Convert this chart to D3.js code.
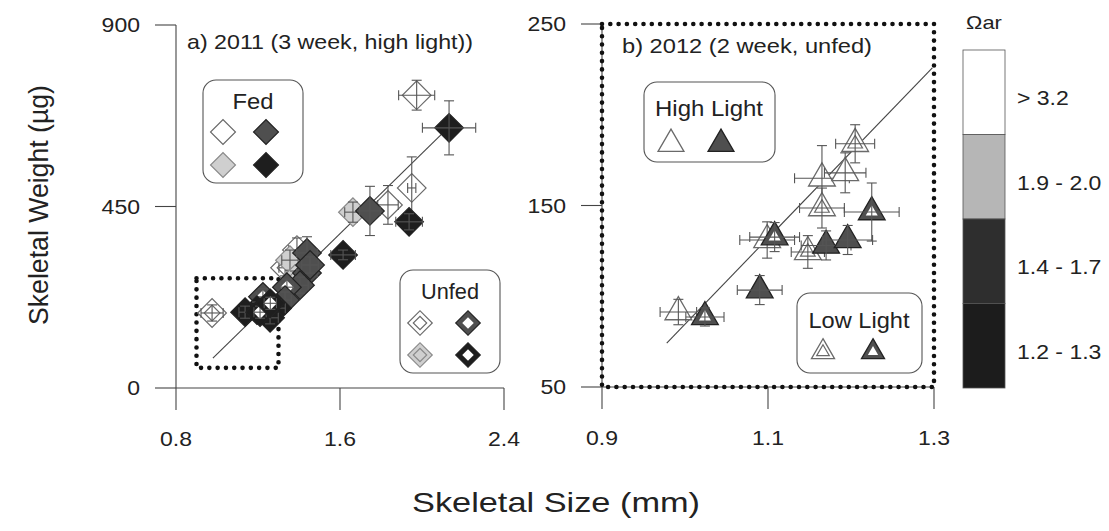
<!DOCTYPE html>
<html><head><meta charset="utf-8">
<script src="https://cdn.jsdelivr.net/npm/d3@7"></script>
<style>body{margin:0;background:#fff}svg{display:block}text{font-family:"Liberation Sans",Arial,sans-serif;fill:#222}</style>
</head><body><svg id="c" width="1109" height="531"></svg>
<script>
// ---------- DATA ----------
// Panel a: 2011 (3 week, high light)
const aX    = [0.976,1.974,2.132,1.95,1.937,1.746,1.834,1.663,1.615,1.439,1.39,1.356,1.341,1.439,1.454,1.405,1.332,1.341,1.332,1.224,1.293,1.259,1.195,1.137,1.21,1.26,1.38];
const aY    = [186,726,645,496,412,439,454,436,330,335,342,317,300,285,305,255,298,250,218,226,198,174,193,188,188,210,270];
const aXErr = [0.054,0.088,0.13,0.02,0.065,0.05,0.05,0.04,0.06,0.05,0.04,0.04,0.03,0.05,0.04,0.04,0.03,0.03,0.03,0.03,0.04,0.04,0.04,0.03,0.03,0.03,0.03];
const aYErr = [20,37,67,77,20,61,48,25,12,40,30,25,20,25,20,20,20,20,20,20,20,15,20,15,15,15,20];
const aOmega= ["> 3.2","> 3.2","1.2 - 1.3","> 3.2","1.2 - 1.3","1.4 - 1.7","> 3.2","1.9 - 2.0","1.2 - 1.3","1.4 - 1.7","> 3.2","1.9 - 2.0","> 3.2","1.4 - 1.7","1.4 - 1.7","1.4 - 1.7","> 3.2","1.4 - 1.7","1.4 - 1.7","1.4 - 1.7","1.2 - 1.3","1.2 - 1.3","1.2 - 1.3","1.2 - 1.3","1.2 - 1.3","1.2 - 1.3","1.9 - 2.0"];
const aFed  = ["unfed","fed","fed","fed","fed","fed","fed","fed","fed","fed","fed","fed","unfed","fed","fed","fed","unfed","unfed","fed","unfed","fed","fed","fed","fed","unfed","unfed","unfed"];
const aRegX = [0.98,2.127];
const aRegY = [74,645];
const aInsetX = [0.9,1.3];
const aInsetY = [50,272];
const aXTicks = [0.8,1.6,2.4];
const aYTicks = [0,450,900];

// Panel b: 2012 (2 week, unfed)
const bX    = [1.205,1.165,1.193,1.165,1.225,1.099,1.108,1.148,1.17,1.196,1.09,0.992,1.024];
const bY    = [184,165,168,148.6,146.4,131,132.6,124.4,128,131,103.4,91.3,88.6];
const bXErr = [0.0235,0.033,0.025,0.027,0.033,0.033,0.03,0.02,0.03,0.03,0.027,0.022,0.023];
const bYErr = [10.5,18,11,11,16,10,8,9,8,8,8,7,5];
const bLight= ["low","high","high","low","low","high","low","low","high","high","high","high","low"];
const bOmega= ["> 3.2","> 3.2","> 3.2","> 3.2","1.4 - 1.7","> 3.2","1.4 - 1.7","> 3.2","1.4 - 1.7","1.4 - 1.7","1.4 - 1.7","> 3.2","1.4 - 1.7"];
const bRegX = [0.978,1.298];
const bRegY = [74.2,225.8];
const bXTicks = [0.9,1.1,1.3];
const bYTicks = [50,150,250];

// Colour key
const omegaLabels = ["> 3.2","1.9 - 2.0","1.4 - 1.7","1.2 - 1.3"];
const omegaBar    = ["#ffffff","#b6b6b6","#2e2e2e","#1c1c1c"];
const omegaMark   = ["#ffffff","#cfcfcf","#4f4f4f","#1e1e1e"];

// ---------- DRAW ----------
const svg = d3.select("#c");
const col = d3.scaleOrdinal().domain(omegaLabels).range(omegaMark);
const barCol = d3.scaleOrdinal().domain(omegaLabels).range(omegaBar);
const strokeFor = c => c==="#ffffff" ? "#6a6a6a" : (c==="#cfcfcf" ? "#8a8a8a" : "#222");
const ERR = "#555";
const STRETCH = 1.15;

function stretch(t, len){
  const n = t.node();
  const L = len || n.getComputedTextLength()*STRETCH;
  t.attr("textLength",L).attr("lengthAdjust","spacingAndGlyphs");
  return t;
}
function txt(g, x, y, s, size, anchor, len){
  const t = g.append("text").attr("x",x).attr("y",y).attr("font-size",size).attr("text-anchor",anchor||"start").text(s);
  return stretch(t, len);
}

function axes(g, x, y, xt, yt, fmtX){
  const [x0,x1]=x.range(), [y0,y1]=y.range(); // y0 bottom
  const L = g.append("g").attr("stroke","#444").attr("stroke-width",1.1);
  L.append("line").attr("x1",x0).attr("x2",x0).attr("y1",y1).attr("y2",y0);
  L.append("line").attr("x1",x0).attr("x2",x1).attr("y1",y0).attr("y2",y0);
  yt.forEach(v=>{
    L.append("line").attr("x1",x0-21).attr("x2",x0).attr("y1",y(v)).attr("y2",y(v));
    txt(g, x0-36, y(v)+7, String(v), 20, "end");
  });
  xt.forEach(v=>{
    L.append("line").attr("x1",x(v)).attr("x2",x(v)).attr("y1",y0).attr("y2",y0+22);
    txt(g, x(v), y0+58, fmtX(v), 20, "middle");
  });
}

function errorBars(g, px, py, xLo, xHi, yLo, yHi){
  const e = g.append("g").attr("stroke",ERR).attr("stroke-width",1.1).attr("fill","none");
  e.append("line").attr("x1",xLo).attr("x2",xHi).attr("y1",py).attr("y2",py);
  e.append("line").attr("x1",px).attr("x2",px).attr("y1",yLo).attr("y2",yHi);
  e.append("line").attr("x1",xLo).attr("x2",xLo).attr("y1",py-5).attr("y2",py+5);
  e.append("line").attr("x1",xHi).attr("x2",xHi).attr("y1",py-5).attr("y2",py+5);
  e.append("line").attr("x1",px-5).attr("x2",px+5).attr("y1",yLo).attr("y2",yLo);
  e.append("line").attr("x1",px-5).attr("x2",px+5).attr("y1",yHi).attr("y2",yHi);
}

const diamondPath = d3.symbol().type(d3.symbolSquare);
function diamond(g, px, py, fill, double, size){
  const s = size||410;
  const t = g.append("g").attr("transform",`translate(${px},${py}) rotate(45)`);
  t.append("path").attr("d",diamondPath.size(s)()).attr("fill",fill).attr("stroke",strokeFor(fill)).attr("stroke-width",1.2);
  if(double){
    const dark = fill!=="#ffffff" && fill!=="#cfcfcf";
    t.append("path").attr("d",diamondPath.size(s*(dark?0.22:0.3))())
      .attr("fill",dark?"#ffffff":fill).attr("stroke",dark?"none":strokeFor(fill)).attr("stroke-width",1.2);
  }
}
const triPath = d3.symbol().type(d3.symbolTriangle);
function triangle(g, px, py, fill, double, size){
  const s = size||310;
  const t = g.append("g").attr("transform",`translate(${px},${py})`);
  t.append("path").attr("d",triPath.size(s)()).attr("fill",fill).attr("stroke",strokeFor(fill)).attr("stroke-width",1.3);
  if(double){
    const dark = fill!=="#ffffff";
    t.append("path").attr("d",triPath.size(s*(dark?0.2:0.3))())
      .attr("fill","#ffffff").attr("stroke",dark?"none":strokeFor(fill)).attr("stroke-width",1.2);
  }
}

function dottedRect(g, xa, xb, ya, yb){
  g.append("rect").attr("x",xa).attr("y",ya).attr("width",xb-xa).attr("height",yb-ya)
    .attr("fill","none").attr("stroke","#111").attr("stroke-width",4.6)
    .attr("stroke-linecap","round").attr("stroke-dasharray","0 8.3");
}

function legendBox(g, x0, y0, w, h){
  g.append("rect").attr("x",x0).attr("y",y0).attr("width",w).attr("height",h).attr("rx",13)
    .attr("fill","#fff").attr("stroke","#555").attr("stroke-width",1.1);
}

// ----- Panel a -----
const xa = d3.scaleLinear().domain([0.8,2.4]).range([176,504]);
const ya = d3.scaleLinear().domain([0,900]).range([388,25]);
const ga = svg.append("g");
axes(ga, xa, ya, aXTicks, aYTicks, d3.format(".1f"));
dottedRect(ga, xa(aInsetX[0]), xa(aInsetX[1]), ya(aInsetY[1]), ya(aInsetY[0]));
ga.append("line").attr("x1",xa(aRegX[0])).attr("y1",ya(aRegY[0])).attr("x2",xa(aRegX[1])).attr("y2",ya(aRegY[1]))
  .attr("stroke","#444").attr("stroke-width",1.1);
txt(ga, 187, 49, "a) 2011 (3 week, high light))", 21, "start", 286);
// draw lighter classes first so the dark diamonds sit on top, as in the original
d3.range(aX.length).sort((p,q)=>omegaLabels.indexOf(aOmega[p])-omegaLabels.indexOf(aOmega[q])).forEach(i=>{
  const v=aX[i], px=xa(v), py=ya(aY[i]), f=col(aOmega[i]);
  diamond(ga, px, py, f, aFed[i]==="unfed");
  errorBars(ga, px, py, xa(v-aXErr[i]), xa(v+aXErr[i]), ya(aY[i]-aYErr[i]), ya(aY[i]+aYErr[i]));
});
// legends a
legendBox(ga, 203, 80, 100, 103);
txt(ga, 253, 109, "Fed", 22, "middle", 41);
[[223,132,0],[266,132,2],[223,165,1],[266,165,3]].forEach(d=>diamond(ga,d[0],d[1],omegaMark[d[2]],false,310));
legendBox(ga, 400, 270, 100, 103);
txt(ga, 450, 299, "Unfed", 22, "middle", 58);
[[420,323,0],[468,323,2],[420,355,1],[468,355,3]].forEach(d=>diamond(ga,d[0],d[1],omegaMark[d[2]],true,300));

// ----- Panel b -----
const xb = d3.scaleLinear().domain([0.9,1.3]).range([602,934]);
const yb = d3.scaleLinear().domain([50,250]).range([387,24]);
const gb = svg.append("g");
axes(gb, xb, yb, bXTicks, bYTicks, d3.format(".1f"));
dottedRect(gb, xb(0.9), xb(1.3), yb(250), yb(50));
gb.append("line").attr("x1",xb(bRegX[0])).attr("y1",yb(bRegY[0])).attr("x2",xb(bRegX[1])).attr("y2",yb(bRegY[1]))
  .attr("stroke","#444").attr("stroke-width",1.1);
txt(gb, 622, 53, "b) 2012 (2 week, unfed)", 21, "start", 250);
bX.forEach((v,i)=>{
  const px=xb(v), py=yb(bY[i]), f=col(bOmega[i]);
  triangle(gb, px, py, f, bLight[i]==="low");
  errorBars(gb, px, py, xb(v-bXErr[i]), xb(v+bXErr[i]), yb(bY[i]-bYErr[i]), yb(bY[i]+bYErr[i]));
});
legendBox(gb, 644, 82, 131, 80);
txt(gb, 709, 116, "High Light", 22, "middle", 108);
triangle(gb, 671, 144, omegaMark[0], false, 290);
triangle(gb, 721, 144, omegaMark[2], false, 290);
legendBox(gb, 797, 293, 125, 80);
txt(gb, 859, 328, "Low Light", 22, "middle", 101);
triangle(gb, 823, 352, omegaMark[0], true, 230);
triangle(gb, 873, 352, omegaMark[2], true, 230);

// ----- Colour bar -----
const cb = svg.append("g");
const yc = d3.scaleBand().domain(omegaLabels).range([50,388]);
cb.selectAll("rect").data(omegaLabels).join("rect")
  .attr("x",963).attr("width",42).attr("y",d=>yc(d)).attr("height",yc.bandwidth())
  .attr("fill",d=>barCol(d)).attr("stroke","#555").attr("stroke-width",0.8);
omegaLabels.forEach(d=>txt(cb, 1017, yc(d)+yc.bandwidth()/2+13, d, 20, "start"));
txt(cb, 984, 29, "Ωar", 19, "middle");

// ----- Axis titles -----
const yt = svg.append("text").attr("transform","translate(48,205) rotate(-90)").attr("text-anchor","middle").attr("font-size",27).text("Skeletal Weight (µg)");
stretch(yt, 240);
txt(svg, 556, 512, "Skeletal Size (mm)", 28, "middle", 288);
</script></body></html>
